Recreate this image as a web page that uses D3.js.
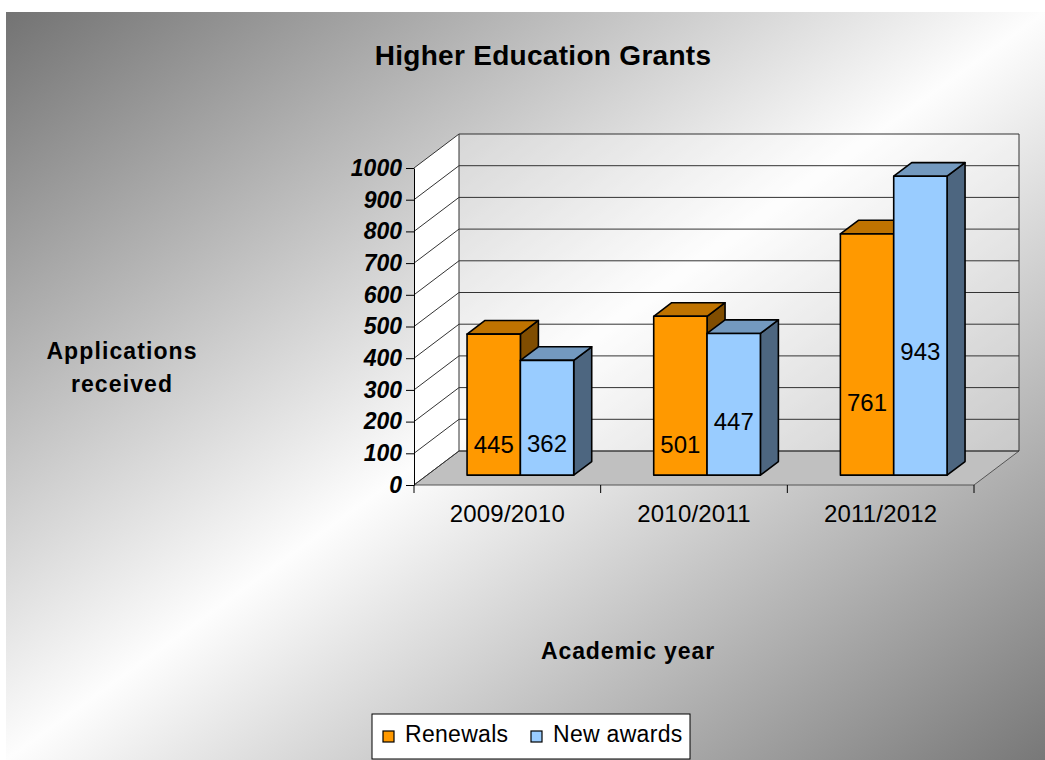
<!DOCTYPE html>
<html>
<head>
<meta charset="utf-8">
<script src="https://cdn.jsdelivr.net/npm/d3@7"></script>
<style>
  html, body { margin: 0; padding: 0; background: #fff; }
  svg { display: block; }
  text { font-family: "Liberation Sans", Arial, sans-serif; fill: #000; }
</style>
</head>
<body>
<svg id="chart" width="1045" height="760"></svg>
<script>
// ---- data ----
const categories = ["2009/2010", "2010/2011", "2011/2012"];
const seriesNames = ["Renewals", "New awards"];
const renewals = [445, 501, 761];
const newAwards = [362, 447, 943];
const yTicks = [0, 100, 200, 300, 400, 500, 600, 700, 800, 900, 1000];
// value level at which each data label sits (Excel placed them manually)
const renewalLabelAt = [95, 95, 230];
const newAwardLabelAt = [101, 169, 390];

// ---- render ----
const svg = d3.select("#chart");
const W = 1045, H = 760;

const defs = svg.append("defs");
const bg = defs.append("linearGradient").attr("id", "bg")
  .attr("x1", 0).attr("y1", 0).attr("x2", 1).attr("y2", 1);
bg.append("stop").attr("offset", 0).attr("stop-color", "#737373");
bg.append("stop").attr("offset", 0.5).attr("stop-color", "#fdfdfd");
bg.append("stop").attr("offset", 1).attr("stop-color", "#787878");

svg.append("rect").attr("x", 6).attr("y", 12).attr("width", W - 6).attr("height", H - 12)
  .attr("fill", "url(#bg)");

const y = d3.scaleLinear().domain([0, 1000]).range([485, 168]);
const x = d3.scaleBand().domain(categories).range([414, 974]).paddingInner(0).paddingOuter(0);
const DX = 45, DY = 34;              // depth vector (front -> back)
const P = (sx, v, d) => [sx + d * DX, y(v) - d * DY];
const x0 = x.range()[0], x1 = x.range()[1];

// side wall
const side = [P(x0, 0, 0), P(x0, 0, 1), P(x0, 1000, 1), P(x0, 1000, 0)];
svg.append("polygon").attr("points", side.map(p => p.join(",")).join(" "))
  .attr("fill", "#ffffff");
// back wall
const back = [P(x0, 0, 1), P(x1, 0, 1), P(x1, 1000, 1), P(x0, 1000, 1)];
svg.append("polygon").attr("points", back.map(p => p.join(",")).join(" "))
  .attr("fill", "#ffffff").attr("fill-opacity", 0.3);
// floor
const floor = [P(x0, 0, 0), P(x1, 0, 0), P(x1, 0, 1), P(x0, 0, 1)];
svg.append("polygon").attr("points", floor.map(p => p.join(",")).join(" "))
  .attr("fill", "#c0c0c0").attr("stroke", "#555").attr("stroke-width", 1);

// gridlines
const grid = svg.append("g").attr("stroke", "#333").attr("stroke-width", 1).attr("fill", "none");
yTicks.forEach(v => {
  const a = P(x0, v, 0), b = P(x0, v, 1), c = P(x1, v, 1);
  grid.append("polyline").attr("points", [a, b, c].map(p => p.join(",")).join(" "));
});
grid.append("line").attr("x1", P(x1, 0, 1)[0]).attr("y1", P(x1, 0, 1)[1])
  .attr("x2", P(x1, 1000, 1)[0]).attr("y2", P(x1, 1000, 1)[1]);
grid.append("line").attr("x1", P(x0, 0, 1)[0]).attr("y1", P(x0, 0, 1)[1])
  .attr("x2", P(x0, 1000, 1)[0]).attr("y2", P(x0, 1000, 1)[1]);

// y axis
const yAxis = svg.append("g").attr("transform", `translate(${x0},0)`)
  .call(d3.axisLeft(y).tickValues(yTicks).tickFormat(d3.format("d"))
    .tickSize(8).tickSizeOuter(0).tickPadding(4));
yAxis.select(".domain").attr("stroke", "#000");
yAxis.selectAll(".tick line").attr("stroke", "#000");
yAxis.selectAll("text")
  .style("font-family", "'Liberation Sans', Arial, sans-serif")
  .style("font-size", "23px").style("font-weight", "bold").style("font-style", "italic")
  .attr("fill", "#000");

// x axis ticks (category boundaries) & labels
const xa = svg.append("g");
const bounds = categories.map(c => x(c)).concat([x1]);
xa.selectAll("line.t").data(bounds).join("line")
  .attr("x1", d => d).attr("x2", d => d).attr("y1", y(0)).attr("y2", y(0) + 8)
  .attr("stroke", "#000");
xa.selectAll("text").data(categories).join("text")
  .attr("x", d => x(d) + x.bandwidth() / 2).attr("y", y(0) + 37)
  .attr("text-anchor", "middle").style("font-size", "24px").style("letter-spacing", "0.2px")
  .text(d => d);

// bars
const bw = x.bandwidth() / 3.5;
const bd0 = 0.29, bdd = 0.4;
const colors = [
  { front: "#ff9900", top: "#bf7300", side: "#804d00" },
  { front: "#99ccff", top: "#7399bf", side: "#4d6680" }
];
const series = [renewals, newAwards];
const labelAts = [renewalLabelAt, newAwardLabelAt];
const barsG = svg.append("g");
categories.forEach((cat, ci) => {
  series.forEach((vals, si) => {
    const v = vals[ci];
    const sx0 = x(cat) + bw * 0.75 + si * bw;
    const sx1 = sx0 + bw;
    const fBL = P(sx0, 0, bd0), fTL = P(sx0, v, bd0), fTR = P(sx1, v, bd0), fBR = P(sx1, 0, bd0);
    const bTL = P(sx0, v, bd0 + bdd), bTR = P(sx1, v, bd0 + bdd), bBR = P(sx1, 0, bd0 + bdd);
    const g = barsG.append("g").attr("stroke", "#000").attr("stroke-width", 1.6)
      .attr("stroke-linejoin", "round");
    g.append("polygon").attr("points", [fTR, bTR, bBR, fBR].map(p => p.join(",")).join(" "))
      .attr("fill", colors[si].side);
    g.append("polygon").attr("points", [fTL, fTR, bTR, bTL].map(p => p.join(",")).join(" "))
      .attr("fill", colors[si].top);
    g.append("polygon").attr("points", [fBL, fTL, fTR, fBR].map(p => p.join(",")).join(" "))
      .attr("fill", colors[si].front);
    const lp = P((sx0 + sx1) / 2, labelAts[si][ci], bd0);
    barsG.append("text").attr("x", lp[0]).attr("y", lp[1]).attr("dy", "0.35em")
      .attr("text-anchor", "middle").style("font-size", "24px").text(v);
  });
});

// titles
svg.append("text").attr("x", 543).attr("y", 65).attr("text-anchor", "middle")
  .style("font-size", "28px").style("font-weight", "bold").style("letter-spacing", "0.3px")
  .text("Higher Education Grants");
const yl = svg.append("text").attr("text-anchor", "middle")
  .style("font-size", "23px").style("font-weight", "bold").style("letter-spacing", "1.1px");
yl.append("tspan").attr("x", 122).attr("y", 359).text("Applications");
yl.append("tspan").attr("x", 122).attr("y", 392).text("received");
svg.append("text").attr("x", 628).attr("y", 659).attr("text-anchor", "middle")
  .style("font-size", "23px").style("font-weight", "bold").style("letter-spacing", "0.9px")
  .text("Academic year");

// legend
const lg = svg.append("g");
lg.append("rect").attr("x", 372).attr("y", 714).attr("width", 318).attr("height", 45)
  .attr("fill", "#fff").attr("stroke", "#000").attr("stroke-width", 1);
const legX = [383, 531];
seriesNames.forEach((n, i) => {
  lg.append("rect").attr("x", legX[i]).attr("y", 731).attr("width", 11).attr("height", 11)
    .attr("fill", colors[i].front).attr("stroke", "#000").attr("stroke-width", 1.2);
  lg.append("text").attr("x", legX[i] + 22).attr("y", 742).style("font-size", "23px")
    .style("letter-spacing", "0.3px").text(n);
});
</script>
</body>
</html>
